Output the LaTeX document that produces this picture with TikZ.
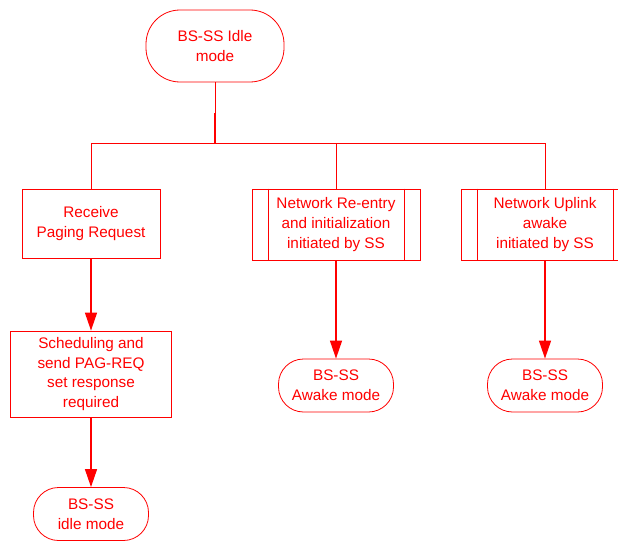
\documentclass[tikz,border=0pt]{standalone}
\usepackage{fontspec}
\setmainfont{Liberation Sans}
\usetikzlibrary{arrows.meta}
\definecolor{fc}{RGB}{255,0,0}
\begin{document}
\begin{tikzpicture}[x=1pt,y=-1pt,
 every node/.style={font=\fontsize{15.3}{19.7}\selectfont, text=fc, align=center},
 term/.style={draw=fc, line width=0.8pt, rounded corners=25pt, minimum width=115pt, minimum height=53pt, inner sep=0pt},
 proc/.style={draw=fc, line width=0.8pt, inner sep=0pt},
 link/.style={draw=fc, line width=0.8pt},
 arr/.style={draw=fc, line width=1.3pt, -{Triangle[length=18pt,width=12pt]}}]
\useasboundingbox (0,0) rectangle (618,543);
\clip (0,0) rectangle (618,543);
\node[term, rounded corners=34pt, minimum width=138pt, minimum height=72pt] (top) at (215,46) {BS-SS Idle\\mode};
\node[proc, minimum width=138pt, minimum height=69pt] (b1) at (91,223.5) {Receive\\Paging Request};
\node[proc, minimum width=161pt, minimum height=86pt] (b2) at (91,374) {Scheduling and\\send PAG-REQ\\set response\\required};
\node[term] (t1) at (91,514) {BS-SS\\idle mode};
\node[proc, minimum width=168pt, minimum height=71pt] (m1) at (336,224.5) {Network Re-entry\\and initialization\\initiated by SS};
\node[term] (t2) at (336,385.5) {BS-SS\\Awake mode};
\node[proc, minimum width=168pt, minimum height=71pt] (r1) at (545,224.5) {Network Uplink\\awake\\initiated by SS};
\node[term] (t3) at (545,385.5) {BS-SS\\Awake mode};
\foreach \n in {m1,r1}{
  \draw[link] ([xshift=16.5pt]\n.north west) -- ([xshift=16.5pt]\n.south west);
  \draw[link] ([xshift=-16.5pt]\n.north east) -- ([xshift=-16.5pt]\n.south east);
}
\coordinate (split) at (215,143);
\coordinate (mid) at (215,113);
\draw[link] (top) -- (split);
\draw[fc, line width=1.6pt] (mid) -- (split);
\draw[link] (split) -| (b1.north);
\draw[link] (split) -| (m1.north);
\draw[link] (split) -| (r1.north);
\draw[arr] (b1.south) -- (b2.north);
\draw[arr] (b2.south) -- (t1.north);
\draw[arr] (m1.south) -- (t2.north);
\draw[arr] (r1.south) -- (t3.north);
\end{tikzpicture}
\end{document}
